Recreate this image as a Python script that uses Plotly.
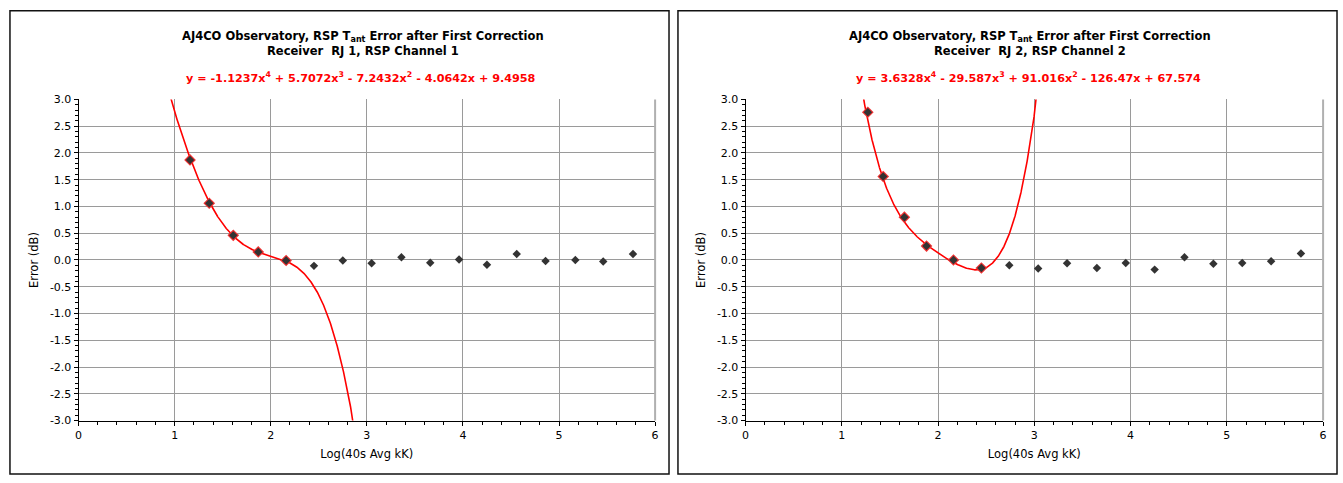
import plotly.graph_objects as go
import numpy as np

W, H = 1343, 483

# ---- data ----
x_left = [1.16, 1.36, 1.61, 1.87, 2.16, 2.45, 2.75, 3.05, 3.36, 3.66, 3.96, 4.25, 4.56, 4.86, 5.17, 5.46, 5.77]
y_left = [1.87, 1.06, 0.46, 0.15, -0.01, -0.11, -0.01, -0.06, 0.05, -0.05, 0.01, -0.09, 0.11, -0.02, 0.00, -0.03, 0.11]
n_fit_left = 5
coef_left = [-1.1237, 5.7072, -7.2432, -4.0642, 9.4958]

x_right = [1.27, 1.43, 1.65, 1.88, 2.16, 2.45, 2.74, 3.04, 3.34, 3.65, 3.95, 4.25, 4.56, 4.86, 5.16, 5.46, 5.77]
y_right = [2.76, 1.56, 0.80, 0.26, 0.00, -0.15, -0.10, -0.16, -0.06, -0.15, -0.055, -0.18, 0.05, -0.07, -0.055, -0.025, 0.12]
n_fit_right = 6
coef_right = [3.6328, -29.587, 91.016, -126.47, 67.574]

y_tick_vals = [-3.0, -2.5, -2.0, -1.5, -1.0, -0.5, 0.0, 0.5, 1.0, 1.5, 2.0, 2.5, 3.0]
y_tick_text = ["-3.0", "-2.5", "-2.0", "-1.5", "-1.0", "-0.5", "0.0", "0.5", "1.0", "1.5", "2.0", "2.5", "3.0"]
x_tick_vals = [0, 1, 2, 3, 4, 5, 6]

title1 = "AJ4CO Observatory, RSP T<sub>ant</sub> Error after First Correction"
sub_left = "Receiver  RJ 1, RSP Channel 1"
sub_right = "Receiver  RJ 2, RSP Channel 2"
eq_left = "y = -1.1237x<sup>4</sup> + 5.7072x<sup>3</sup> - 7.2432x<sup>2</sup> - 4.0642x + 9.4958"
eq_right = "y = 3.6328x<sup>4</sup> - 29.587x<sup>3</sup> + 91.016x<sup>2</sup> - 126.47x + 67.574"
x_title = "Log(40s Avg kK)"
y_title = "Error (dB)"

FONT = "DejaVu Sans"
fig = go.Figure()

panels = [
    dict(x=x_left, y=y_left, n=n_fit_left, coef=coef_left, sub=sub_left, eq=eq_left,
         xa="x", ya="y", px0=75, px1=655, bx0=6, bx1=669),
    dict(x=x_right, y=y_right, n=n_fit_right, coef=coef_right, sub=sub_right, eq=eq_right,
         xa="x2", ya="y2", px0=746, px1=1327, bx0=678, bx1=1341),
]

py0, py1 = 96, 426
shapes = []
annotations = []

for i, p in enumerate(panels):
    xs = np.linspace(0.5, 3.5, 1201)
    ys = np.polyval(p["coef"], xs)
    fig.add_trace(go.Scatter(x=xs, y=ys, mode="lines", line=dict(color="#ff0000", width=1.6),
                             xaxis=p["xa"], yaxis=p["ya"], showlegend=False, hoverinfo="skip"))
    fig.add_trace(go.Scatter(x=p["x"][:p["n"]], y=p["y"][:p["n"]], mode="markers",
                             marker=dict(symbol="diamond", size=9, color="#f03030",
                                         line=dict(width=0)),
                             xaxis=p["xa"], yaxis=p["ya"], showlegend=False))
    fig.add_trace(go.Scatter(x=p["x"], y=p["y"], mode="markers",
                             marker=dict(symbol="diamond", size=6.5, color="#333333"),
                             xaxis=p["xa"], yaxis=p["ya"], showlegend=False))

    sfx = "" if i == 0 else "2"
    dom_x = [p["px0"] / W, p["px1"] / W]
    dom_y = [1 - py1 / H, 1 - py0 / H]
    fig.layout["xaxis" + sfx] = dict(
        domain=dom_x, range=[0, 6], tickmode="array", tickvals=x_tick_vals, anchor="y" + sfx,
        showgrid=True, gridcolor="#9a9a9a", gridwidth=1,
        showline=True, linecolor="black", linewidth=1,
        ticks="outside", ticklen=4, tickcolor="black",
        minor=dict(dtick=0.2, tick0=0, ticks="outside", ticklen=3, tickcolor="black", showgrid=False),
        zeroline=False, tickfont=dict(family=FONT, size=11, color="black"),
        title=dict(text=x_title, font=dict(family=FONT, size=11.5, color="black"), standoff=9),
        fixedrange=True,
    )
    fig.layout["yaxis" + sfx] = dict(
        domain=dom_y, range=[-3, 3], tickmode="array", tickvals=y_tick_vals, ticktext=y_tick_text,
        anchor="x" + sfx,
        showgrid=True, gridcolor="#9a9a9a", gridwidth=1,
        showline=True, linecolor="black", linewidth=1,
        ticks="outside", ticklen=4, tickcolor="black",
        minor=dict(dtick=0.1, tick0=0, ticks="outside", ticklen=3, tickcolor="black", showgrid=False),
        zeroline=False, tickfont=dict(family=FONT, size=11, color="black"),
        title=dict(text=y_title, font=dict(family=FONT, size=11.5, color="black"), standoff=8),
        fixedrange=True,
    )
    shapes.append(dict(type="line", xref="paper", yref="paper",
                       x0=p["px1"] / W, x1=p["px1"] / W, y0=dom_y[0], y1=dom_y[1],
                       line=dict(color="#b0b0b0", width=2)))
    shapes.append(dict(type="rect", xref="paper", yref="paper",
                       x0=p["bx0"] / W, x1=p["bx1"] / W, y0=1 - 481 / H, y1=1 - 5 / H,
                       line=dict(color="#111111", width=1.5)))
    cx = (p["px0"] + p["px1"]) / 2 / W
    annotations.append(dict(text="<b>" + title1 + "</b>", x=cx - 4 / W, y=1 - 31 / H, xref="paper", yref="paper",
                            showarrow=False, xanchor="center", yanchor="middle",
                            font=dict(family=FONT, size=11.5, color="black")))
    annotations.append(dict(text="<b>" + p["sub"] + "</b>", x=cx - 4 / W, y=1 - 46 / H, xref="paper", yref="paper",
                            showarrow=False, xanchor="center", yanchor="middle",
                            font=dict(family=FONT, size=11.5, color="black")))
    annotations.append(dict(text="<b>" + p["eq"] + "</b>", x=cx - 6 / W, y=1 - 73 / H, xref="paper", yref="paper",
                            showarrow=False, xanchor="center", yanchor="middle",
                            font=dict(family=FONT, size=11.2, color="#ff0000")))

fig.update_layout(
    width=W, height=H, margin=dict(l=0, r=0, t=0, b=0),
    paper_bgcolor="white", plot_bgcolor="white",
    shapes=shapes, annotations=annotations, showlegend=False,
)

fig.write_html("out.html", config={"displayModeBar": False})
